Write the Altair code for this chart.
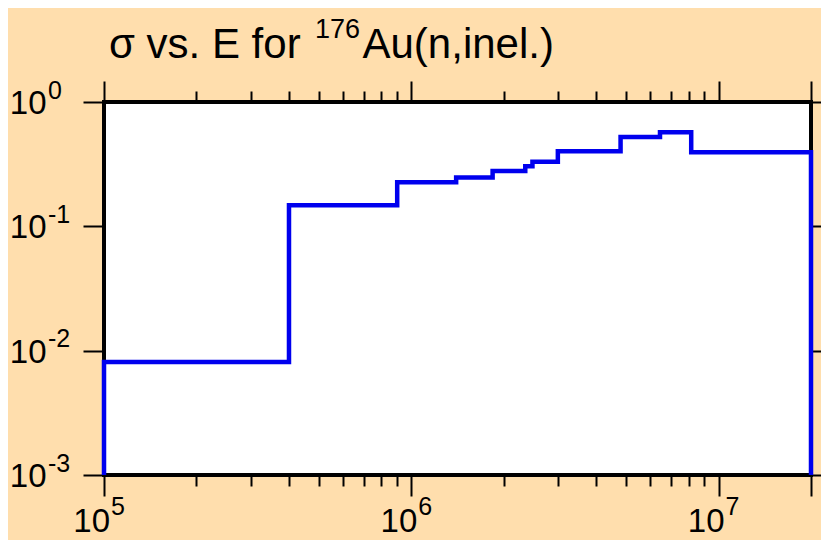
import altair as alt
import pandas as pd

# ---- data (energy in eV, cross section in b) ----
energy = [1.0e5, 4.0e5, 9.0e5, 1.40e6, 1.84e6, 2.35e6, 2.48e6, 3.0e6, 4.8e6, 6.45e6, 8.15e6]
sigma = [0.0081, 0.148, 0.226, 0.247, 0.278, 0.304, 0.330, 0.402, 0.523, 0.570, 0.395]
energy_max = 2.0e7
sigma_floor = 1.0e-3

x_domain = [1.0e5, 2.0e7]
y_domain = [1.0e-3, 1.0]

x_major_ticks = [1.0e5, 1.0e6, 1.0e7, 2.0e7]
x_minor_ticks = [2e5, 3e5, 4e5, 5e5, 6e5, 7e5, 8e5, 9e5,
                 2e6, 3e6, 4e6, 5e6, 6e6, 7e6, 8e6, 9e6]
y_ticks = [1.0e-3, 1.0e-2, 1.0e-1, 1.0]

x_label_values = [1.0e5, 1.0e6, 1.0e7]
x_label_exps = ["5", "6", "7"]
y_label_values = [1.0, 1.0e-1, 1.0e-2, 1.0e-3]
y_label_exps = ["0", "-1", "-2", "-3"]

title_main = "σ vs. E for"
title_sup = "176"
title_rest = "Au(n,inel.)"

BG = "#FFDEAD"
BLUE = "#0000EE"
FONT = "Liberation Sans, Arial, Helvetica, sans-serif"
NARROW = "Liberation Sans Narrow, Arial Narrow, Liberation Sans, Arial, sans-serif"

# ---- tables ----
xs = [energy[0]] + energy + [energy_max, energy_max]
ys = [sigma_floor] + sigma + [sigma[-1], sigma_floor]
line_df = pd.DataFrame({"E": xs, "sigma": ys, "i": list(range(len(xs)))})

xl_df = pd.DataFrame({"v": x_label_values, "base": ["10"] * len(x_label_values), "exp": x_label_exps})
yl_df = pd.DataFrame({"v": y_label_values, "base": ["10"] * len(y_label_values), "exp": y_label_exps})

xscale = alt.Scale(type="log", domain=x_domain, nice=False)
yscale = alt.Scale(type="log", domain=y_domain, nice=False)

major_test = " || ".join(f"datum.value == {v!r}" for v in x_major_ticks)
x_tick_size = {"condition": {"test": major_test, "value": 21}, "value": 11}
all_x_ticks = sorted(x_major_ticks + x_minor_ticks)


def x_axis(orient):
    return alt.Axis(orient=orient, values=all_x_ticks, labels=False, domain=False,
                    grid=False, title=None, tickColor="black", tickWidth=2,
                    tickSize=x_tick_size)


def y_axis(orient):
    return alt.Axis(orient=orient, values=y_ticks, labels=False, domain=False,
                    grid=False, title=None, tickColor="black", tickWidth=2,
                    tickSize=21)


line = alt.Chart(line_df).mark_line(
    interpolate="step-after", color=BLUE, strokeWidth=4.5, strokeJoin="miter"
).encode(
    x=alt.X("E:Q", scale=xscale, axis=x_axis("bottom")),
    y=alt.Y("sigma:Q", scale=yscale, axis=y_axis("left")),
    order=alt.Order("i:Q"),
)

ghost = alt.Chart(line_df).mark_line(opacity=0).encode(
    x=alt.X("E:Q", scale=xscale, axis=x_axis("top")),
    y=alt.Y("sigma:Q", scale=yscale, axis=y_axis("right")),
    order=alt.Order("i:Q"),
)

xl_base = alt.Chart(xl_df).mark_text(
    align="right", baseline="alphabetic", dx=6, font=NARROW, fontSize=33, color="black"
).encode(
    x=alt.X("v:Q", scale=xscale, axis=None), y=alt.value(430), text="base:N"
)
xl_exp = alt.Chart(xl_df).mark_text(
    align="left", baseline="alphabetic", dx=7, font=NARROW, fontSize=25, color="black"
).encode(
    x=alt.X("v:Q", scale=xscale, axis=None), y=alt.value(413), text="exp:N"
)

yl_base = alt.Chart(yl_df).mark_text(
    align="right", baseline="alphabetic", dy=12, font=NARROW, fontSize=33, color="black"
).encode(
    y=alt.Y("v:Q", scale=yscale, axis=None), x=alt.value(-57.5), text="base:N"
)
yl_exp = alt.Chart(yl_df).mark_text(
    align="left", baseline="alphabetic", dy=-3.5, font=NARROW, fontSize=25, color="black"
).encode(
    y=alt.Y("v:Q", scale=yscale, axis=None), x=alt.value(-56), text="exp:N"
)

t1 = alt.Chart(pd.DataFrame({"t": [title_main]})).mark_text(
    align="left", baseline="alphabetic", font=FONT, fontSize=42, color="black"
).encode(x=alt.value(5), y=alt.value(-44), text="t:N")
t2 = alt.Chart(pd.DataFrame({"t": [title_sup]})).mark_text(
    align="left", baseline="alphabetic", font=FONT, fontSize=27, color="black"
).encode(x=alt.value(211), y=alt.value(-64), text="t:N")
t3 = alt.Chart(pd.DataFrame({"t": [title_rest]})).mark_text(
    align="left", baseline="alphabetic", font=FONT, fontSize=42, color="black"
).encode(x=alt.value(258.5), y=alt.value(-44), text="t:N")

chart = alt.layer(
    line, ghost, xl_base, xl_exp, yl_base, yl_exp, t1, t2, t3
).resolve_axis(
    x="independent", y="independent"
).properties(
    width=707, height=373,
    autosize=alt.AutoSizeParams(type="none"),
    padding={"left": 96, "top": 94, "right": 10, "bottom": 65},
    background=BG,
).configure_view(
    fill="white", stroke="black", strokeWidth=4
)

chart.save("out.html", embed_options={"renderer": "svg", "actions": False})
